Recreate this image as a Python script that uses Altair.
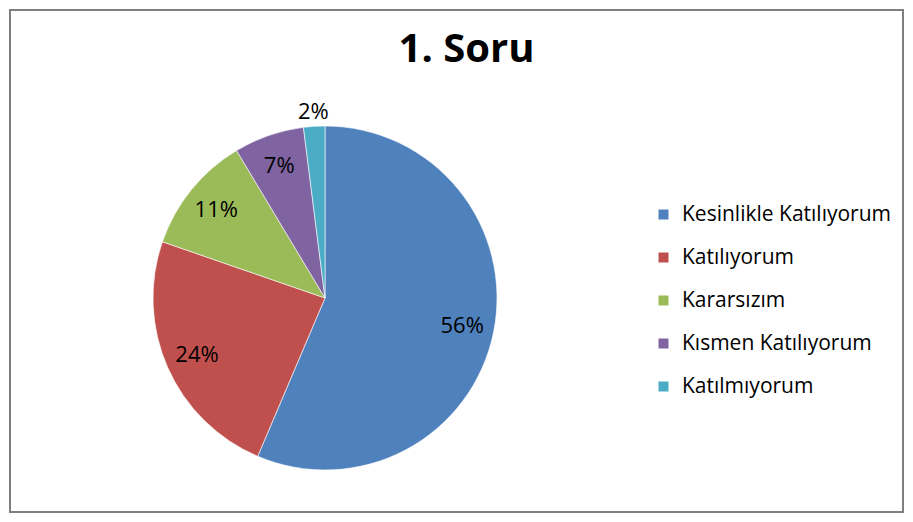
import altair as alt
import pandas as pd

categories = ["Kesinlikle Katılıyorum", "Katılıyorum", "Kararsızım", "Kısmen Katılıyorum", "Katılmıyorum"]
values = [56.4, 23.9, 11.1, 6.6, 2.0]
colors = ["#4F81BD", "#C0504D", "#9BBB59", "#8064A2", "#4BACC6"]

df = pd.DataFrame({"cat": categories, "value": values, "order": list(range(len(categories)))})

FONT = "Open Sans"
CX, CY, R = 315, 288, 172

base = alt.Chart(df).encode(
    theta=alt.Theta("value:Q", stack=True),
    order=alt.Order("order:Q"),
)

pie = base.mark_arc(outerRadius=R, stroke="white", strokeWidth=0.6).encode(
    color=alt.Color(
        "cat:N",
        scale=alt.Scale(domain=categories, range=colors),
        sort=categories,
        legend=alt.Legend(
            title=None,
            orient="none",
            legendX=643,
            legendY=194,
            symbolType="square",
            symbolSize=100,
            symbolStrokeWidth=0,
            labelFont=FONT,
            labelFontSize=21,
            labelColor="#000000",
            labelOffset=8,
            rowPadding=21,
            labelLimit=400,
        ),
    ),
    x=alt.value(CX),
    y=alt.value(CY),
)

lab_in = base.transform_filter("datum.value >= 5").transform_calculate(
    lbl="format(round(datum.value), 'd') + '%'"
).mark_text(radius=140, font=FONT, fontSize=22, color="#000000").encode(
    text="lbl:N", x=alt.value(CX), y=alt.value(CY)
)

lab_out = base.transform_calculate(
    lbl="format(round(datum.value), 'd') + '%'"
).mark_text(radius=186, font=FONT, fontSize=22, color="#000000").encode(
    text="lbl:N", x=alt.value(CX), y=alt.value(CY),
    opacity=alt.condition("datum.value < 5", alt.value(1), alt.value(0)),
)

chart = alt.layer(pie, lab_in, lab_out).properties(
    width=893,
    height=502,
    autosize=alt.AutoSizeParams(type="none"),
    padding=2,
    view=alt.ViewBackground(stroke="#7f7f7f", strokeWidth=2, strokeOpacity=1, fill="white"),
    title=alt.Title("1. Soru", font=FONT, fontSize=40, fontWeight="bold", color="#000000",
                    anchor="middle", offset=-60, dx=10),
).configure(background="white")

chart.save("out.html", embed_options={"renderer": "svg", "actions": False})
